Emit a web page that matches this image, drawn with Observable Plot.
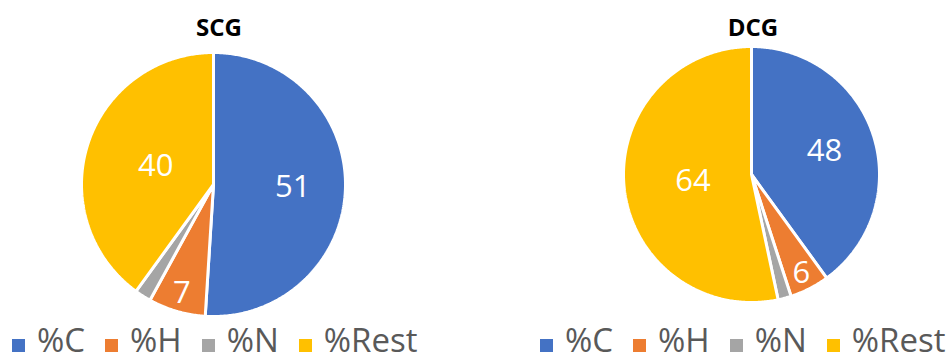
<!DOCTYPE html>
<html><head><meta charset="utf-8">
<script src="https://cdn.jsdelivr.net/npm/d3@7"></script>
<script src="https://cdn.jsdelivr.net/npm/@observablehq/plot@0.6"></script>
<style>
body{margin:0;background:#fff;}
#wrap{position:relative;width:952px;height:363px;overflow:hidden;font-family:"Open Sans",sans-serif;}
.panel{position:absolute;top:0;width:476px;height:363px;}
.title{position:absolute;top:15px;line-height:24px;font-weight:700;font-size:24px;color:#000;transform:translateX(-50%);white-space:nowrap;}
.legend{position:absolute;top:327px;line-height:26px;display:flex;align-items:baseline;font-size:33px;color:#595959;white-space:nowrap;}
.legend .sw{display:inline-block;width:13px;height:13px;margin-right:12px;}
.legend .lab{margin-right:20px;}
.legend .lab:last-child{margin-right:0;}
</style>
</head><body>
<div id="wrap"></div>
<script>
// ---- data ----
const categories = ["%C", "%H", "%N", "%Rest"];
const colors = ["#4472C4", "#ED7D31", "#A5A5A5", "#FFC000"];
const charts = ["SCG", "DCG"];
const scgValues = [51, 7, 2, 40];
const dcgValues = [48, 6, 2, 64];
const scgLabels = ["51", "7", "", "40"];
const dcgLabels = ["48", "6", "", "64"];

// ---- layout (pixels) ----
const layouts = [
  {left: 0,   cx: 213, cy: 184, r: 132, titleX: 219, legendX: 12},
  {left: 476, cx: 275, cy: 174, r: 128, titleX: 277, legendX: 64}
];
const labelRadius = {"%C": 0.6, "%H": 0.86, "%N": 0.86, "%Rest": 0.46};

const wrap = document.getElementById("wrap");
const valueSets = [scgValues, dcgValues];
const labelSets = [scgLabels, dcgLabels];

charts.forEach((name, ci) => {
  const L = layouts[ci];
  const rows = categories.map((c, i) => ({cat: c, value: valueSets[ci][i], label: labelSets[ci][i]}));
  const arcs = d3.pie().sort(null).value(d => d.value)(rows);
  const pts = [];
  const labels = [];
  arcs.forEach(a => {
    const c = a.data.cat;
    pts.push({cat: c, x: 0, y: 0});
    const n = Math.max(2, Math.ceil((a.endAngle - a.startAngle) / 0.01));
    for (let k = 0; k <= n; k++) {
      const t = a.startAngle + (a.endAngle - a.startAngle) * k / n;
      pts.push({cat: c, x: Math.sin(t), y: Math.cos(t)});
    }
    const m = (a.startAngle + a.endAngle) / 2;
    const lr = labelRadius[c];
    if (a.data.label) labels.push({cat: c, text: a.data.label, x: lr * Math.sin(m), y: lr * Math.cos(m)});
  });

  const panel = document.createElement("div");
  panel.className = "panel";
  panel.style.left = L.left + "px";

  const W = 476, H = 363;
  const svg = Plot.plot({
    width: W, height: H,
    marginLeft: L.cx - L.r, marginRight: W - L.cx - L.r,
    marginTop: L.cy - L.r, marginBottom: H - L.cy - L.r,
    x: {domain: [-1, 1], axis: null},
    y: {domain: [-1, 1], axis: null},
    color: {domain: categories, range: colors},
    style: {fontFamily: "Open Sans, sans-serif", background: "transparent"},
    marks: [
      Plot.line(pts, {x: "x", y: "y", z: "cat", fill: "cat", stroke: "white", strokeWidth: 3, strokeLinejoin: "miter", curve: "linear-closed"}),
      Plot.text(labels, {x: "x", y: "y", text: "text", fill: "white", fontSize: 31})
    ]
  });
  panel.appendChild(svg);

  const title = document.createElement("div");
  title.className = "title";
  title.style.left = L.titleX + "px";
  title.textContent = name;
  panel.appendChild(title);

  const leg = document.createElement("div");
  leg.className = "legend";
  leg.style.left = L.legendX + "px";
  categories.forEach((c, i) => {
    const sw = document.createElement("span");
    sw.className = "sw";
    sw.style.background = colors[i];
    const lab = document.createElement("span");
    lab.className = "lab";
    lab.textContent = c;
    leg.appendChild(sw);
    leg.appendChild(lab);
  });
  panel.appendChild(leg);

  wrap.appendChild(panel);
});
</script>
</body></html>
